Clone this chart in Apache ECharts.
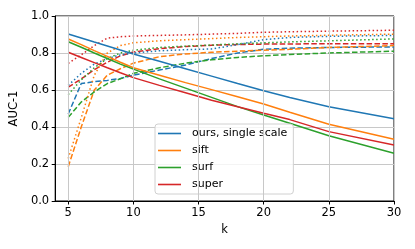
<!DOCTYPE html>
<html><head><meta charset="utf-8">
<script src="https://cdn.jsdelivr.net/npm/echarts@6/dist/echarts.min.js"></script>
<style>html,body{margin:0;padding:0;background:#fff}#c{width:415px;height:249px}</style>
</head><body><div id="c"></div>
<script>
const kValues = [5,6,7,8,9,10,12,14,16,18,20,22,25,30];
const methods = ['ours, single scale','sift','surf','super'];
const colors = ['#1f77b4','#ff7f0e','#2ca02c','#d62728'];
const xTicks = [5,10,15,20,25,30];
const yTicks = [0,0.2,0.4,0.6,0.8,1.0];

const solidOurs  = [0.903,0.881,0.859,0.838,0.816,0.795,0.755,0.715,0.675,0.635,0.596,0.56,0.51,0.445];
const solidSift  = [0.876,0.845,0.813,0.782,0.75,0.72,0.68,0.64,0.602,0.563,0.524,0.48,0.415,0.334];
const solidSurf  = [0.861,0.831,0.80,0.77,0.74,0.713,0.66,0.61,0.56,0.51,0.465,0.42,0.353,0.258];
const solidSuper = [0.804,0.776,0.748,0.72,0.693,0.667,0.625,0.585,0.545,0.509,0.474,0.44,0.375,0.303];

const dashedOurs  = [0.47,0.635,0.645,0.652,0.662,0.68,0.708,0.735,0.77,0.80,0.82,0.826,0.83,0.833];
const dashedSift  = [0.185,0.40,0.60,0.68,0.715,0.745,0.78,0.795,0.804,0.81,0.815,0.82,0.83,0.84];
const dashedSurf  = [0.452,0.535,0.59,0.635,0.66,0.69,0.72,0.745,0.763,0.776,0.785,0.792,0.80,0.81];
const dashedSuper = [0.615,0.66,0.71,0.75,0.785,0.805,0.823,0.835,0.842,0.846,0.848,0.849,0.85,0.85];

const dottedOurs  = [0.625,0.69,0.74,0.77,0.79,0.80,0.812,0.818,0.822,0.845,0.872,0.884,0.89,0.895];
const dottedSift  = [0.23,0.45,0.68,0.80,0.84,0.855,0.866,0.872,0.878,0.884,0.888,0.892,0.896,0.902];
const dottedSurf  = [0.575,0.655,0.72,0.77,0.80,0.815,0.83,0.837,0.843,0.85,0.855,0.86,0.866,0.876];
const dottedSuper = [0.744,0.79,0.84,0.88,0.888,0.892,0.895,0.898,0.902,0.906,0.912,0.915,0.918,0.923];

const solid = [solidOurs,solidSift,solidSurf,solidSuper];
const dashed = [dashedOurs,dashedSift,dashedSurf,dashedSuper];
const dotted = [dottedOurs,dottedSift,dottedSurf,dottedSuper];

function pairs(vals){ return kValues.map((k,i)=>[k, vals[i]]); }
const FONT = 'DejaVu Sans';
const FS = 11.5;
const series = [];
function mk(name, vals, color, type, z){
  return {name, type:'line', data:pairs(vals), symbol:'none', silent:true, z,
    lineStyle:{color, width:1.5, type, cap:'butt'}, itemStyle:{color}};
}
for(let i=0;i<4;i++) series.push(mk(methods[i]+' dashed', dashed[i], colors[i], [5.5,2.4], 2));
for(let i=0;i<4;i++) series.push(mk(methods[i]+' dotted', dotted[i], colors[i], [1.5,2.5], 2));
for(let i=0;i<4;i++) series.push(mk(methods[i], solid[i], colors[i], 'solid', 3));

const chart = echarts.init(document.getElementById('c'), null, {renderer:'canvas'});
chart.setOption({
  animation:false,
  backgroundColor:'#fff',
  textStyle:{fontFamily:FONT},
  grid:{left:55, right:21, top:16, bottom:48, show:true, borderColor:'#000', borderWidth:1, backgroundColor:'transparent'},
  xAxis:{type:'value', min:4, max:30,
    name:'k', nameLocation:'middle', nameGap:21,
    nameTextStyle:{fontFamily:FONT, fontSize:FS, color:'#000'},
    axisLine:{show:true, onZero:false, lineStyle:{color:'#000', width:1}},
    axisTick:{show:true, length:3.5, lineStyle:{color:'#000'}, customValues:xTicks},
    axisLabel:{fontFamily:FONT, fontSize:FS, color:'#000', margin:6, customValues:xTicks},
    splitLine:{show:false}
  },
  yAxis:{type:'value', min:0, max:1, interval:0.2,
    name:'AUC-1', nameLocation:'middle', nameGap:35,
    nameTextStyle:{fontFamily:FONT, fontSize:FS, color:'#000'},
    axisLine:{show:true, lineStyle:{color:'#000', width:1}},
    axisTick:{show:true, length:3.5, lineStyle:{color:'#000'}},
    axisLabel:{fontFamily:FONT, fontSize:FS, color:'#000', margin:6, formatter:v=>v.toFixed(1)},
    splitLine:{show:true, lineStyle:{color:'#c8c8c8', width:1}}
  },
  legend:{show:true, orient:'vertical', left:155, top:124,
    data:methods, icon:'rect', itemWidth:23, itemHeight:1.6, itemGap:4,
    backgroundColor:'rgba(255,255,255,0.8)', borderColor:'#d0d0d0', borderWidth:1, borderRadius:3,
    padding:[3,6,3,3],
    textStyle:{fontFamily:FONT, fontSize:11, color:'#000', lineHeight:13, padding:[0,0,0,6]}
  },
  series: series.concat([{type:'line', data:[], silent:true, z:1,
    markLine:{silent:true, symbol:'none', label:{show:false},
      lineStyle:{color:'#c8c8c8', width:1, type:'solid'},
      data:xTicks.map(v=>({xAxis:v}))}}])
});
</script></body></html>
